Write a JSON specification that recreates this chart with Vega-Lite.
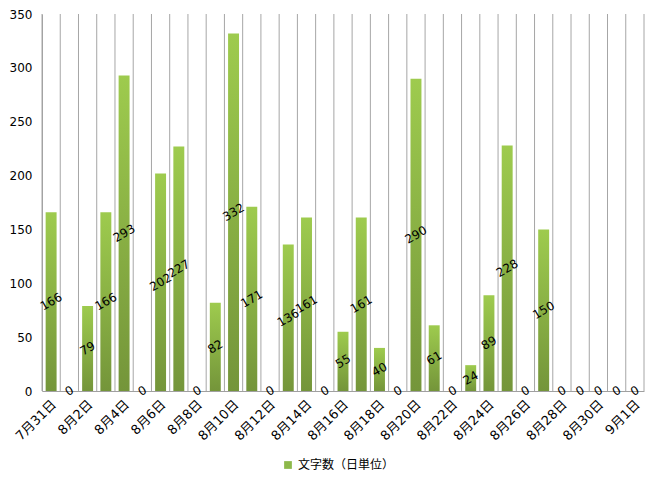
{
  "$schema": "https://vega.github.io/schema/vega-lite/v6.json",
  "width": 663,
  "height": 487,
  "autosize": {"type": "fit", "contains": "padding"},
  "padding": {"left": 9, "right": 18, "top": 8, "bottom": 44},
  "background": "white",
  "config": {
    "view": {"stroke": null},
    "font": "DejaVu Sans, Noto Sans CJK JP",
    "axis": {"labelFont": "DejaVu Sans, Noto Sans CJK JP", "labelColor": "#000000"}
  },
  "data": {
    "values": [
      {"d": "7月31日", "v": 166},
      {"d": "8月1日", "v": 0},
      {"d": "8月2日", "v": 79},
      {"d": "8月3日", "v": 166},
      {"d": "8月4日", "v": 293},
      {"d": "8月5日", "v": 0},
      {"d": "8月6日", "v": 202},
      {"d": "8月7日", "v": 227},
      {"d": "8月8日", "v": 0},
      {"d": "8月9日", "v": 82},
      {"d": "8月10日", "v": 332},
      {"d": "8月11日", "v": 171},
      {"d": "8月12日", "v": 0},
      {"d": "8月13日", "v": 136},
      {"d": "8月14日", "v": 161},
      {"d": "8月15日", "v": 0},
      {"d": "8月16日", "v": 55},
      {"d": "8月17日", "v": 161},
      {"d": "8月18日", "v": 40},
      {"d": "8月19日", "v": 0},
      {"d": "8月20日", "v": 290},
      {"d": "8月21日", "v": 61},
      {"d": "8月22日", "v": 0},
      {"d": "8月23日", "v": 24},
      {"d": "8月24日", "v": 89},
      {"d": "8月25日", "v": 228},
      {"d": "8月26日", "v": 0},
      {"d": "8月27日", "v": 150},
      {"d": "8月28日", "v": 0},
      {"d": "8月29日", "v": 0},
      {"d": "8月30日", "v": 0},
      {"d": "8月31日", "v": 0},
      {"d": "9月1日", "v": 0}
    ]
  },
  "encoding": {
    "x": {
      "field": "d",
      "type": "nominal",
      "sort": null,
      "scale": {"paddingInner": 0, "paddingOuter": 0},
      "axis": {
        "title": null,
        "ticks": false,
        "grid": false,
        "domainColor": "#a0a0a0",
        "labelAngle": -45,
        "labelAlign": "right",
        "labelBaseline": "middle",
        "labelPadding": 11,
        "labelOffset": 3,
        "labelFontSize": 13,
        "values": ["7月31日", "8月2日", "8月4日", "8月6日", "8月8日", "8月10日", "8月12日", "8月14日", "8月16日", "8月18日", "8月20日", "8月22日", "8月24日", "8月26日", "8月28日", "8月30日", "9月1日"]
      }
    }
  },
  "layer": [
    {
      "mark": {"type": "rule", "color": "#a6a6a6", "strokeWidth": 1},
      "encoding": {"x": {"field": "d", "type": "nominal", "sort": null, "bandPosition": 0}}
    },
    {
      "data": {"values": [{"d": "9月1日"}]},
      "mark": {"type": "rule", "color": "#a6a6a6", "strokeWidth": 1},
      "encoding": {"x": {"field": "d", "type": "nominal", "sort": null, "bandPosition": 1}}
    },
    {
      "mark": {
        "type": "bar",
        "width": {"band": 0.6},
        "color": {
          "gradient": "linear",
          "x1": 0, "y1": 0, "x2": 0, "y2": 1,
          "stops": [
            {"offset": 0, "color": "#9ecb4e"},
            {"offset": 1, "color": "#74953a"}
          ]
        }
      },
      "encoding": {
        "y": {
          "field": "v",
          "type": "quantitative",
          "scale": {"domain": [0, 350], "nice": false},
          "axis": {
            "title": null,
            "ticks": false,
            "grid": false,
            "domainColor": "#a0a0a0",
            "values": [0, 50, 100, 150, 200, 250, 300, 350],
            "labelPadding": 10,
            "labelFontSize": 12
          }
        }
      }
    },
    {
      "mark": {"type": "text", "angle": -30, "fontSize": 12, "color": "#000000", "font": "DejaVu Sans"},
      "encoding": {
        "y": {"field": "v", "type": "quantitative", "stack": "zero", "bandPosition": 0.5},
        "text": {"field": "v", "type": "quantitative"}
      }
    },
    {
      "data": {"values": [{"d": "7月31日", "s": "文字数（日単位）"}]},
      "mark": {"type": "square", "size": 0},
      "encoding": {
        "y": {"datum": 0, "type": "quantitative"},
        "color": {
          "field": "s",
          "type": "nominal",
          "scale": {"range": ["#8db84a"]},
          "legend": {
            "title": null,
            "orient": "none",
            "legendX": 240,
            "legendY": 445,
            "symbolType": "square",
            "symbolSize": 60,
            "symbolOpacity": 1,
            "labelFont": "Noto Sans CJK JP",
            "labelFontSize": 12,
            "labelColor": "#000000"
          }
        }
      }
    }
  ]
}
